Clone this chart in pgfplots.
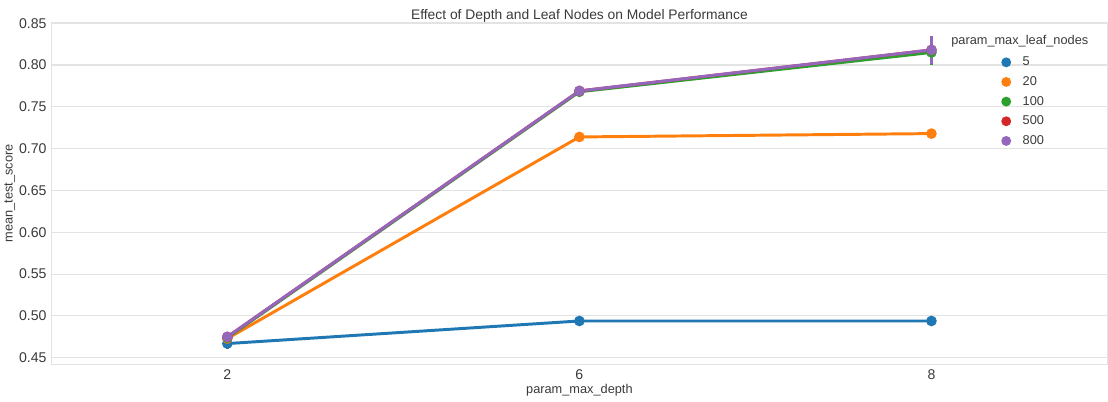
\documentclass[border=0pt]{standalone}
\usepackage{pgfplots}
\pgfplotsset{compat=1.18}
\usepackage{fontspec}
\setmainfont{Liberation Sans}
\definecolor{c5}{HTML}{1F77B4}
\definecolor{c20}{HTML}{FF7F0E}
\definecolor{c100}{HTML}{2CA02C}
\definecolor{c500}{HTML}{D62728}
\definecolor{c800}{HTML}{9467BD}
\definecolor{gridc}{HTML}{E3E3E3}
\definecolor{txt}{HTML}{3A3A3A}
\begin{document}
\begin{tikzpicture}
\begin{axis}[
  name=main,
  scale only axis,
  width=786pt, height=255pt,
  xmin=-0.5, xmax=2.5, ymin=0.4416, ymax=0.8512,
  xtick={0,1,2}, xticklabels={2,6,8},
  ytick={0.45,0.50,...,0.85},
  yticklabel style={/pgf/number format/.cd,fixed,fixed zerofill,precision=2},
  /pgf/number format/assume math mode=true,
  ymajorgrids, grid style={gridc, line width=0.8pt},
  axis line style={gridc, line width=0.8pt},
  tick style={draw=none},
  ticklabel style={font=\fontsize{10.5}{12}\selectfont, text=txt},
  label style={font=\fontsize{9.5}{11}\selectfont, text=txt},
  xlabel={param\_max\_depth},
  ylabel={mean\_test\_score},
  xlabel style={yshift=3pt},
  ylabel style={yshift=-4pt},
  title={Effect of Depth and Leaf Nodes on Model Performance},
  title style={font=\fontsize{10.3}{12}\selectfont, text=txt, yshift=-9.8pt},
  every axis plot/.append style={line width=2.2pt, mark=*, mark size=2.8pt},
  error bars/y dir=both, error bars/y explicit,
  error bars/error bar style={line width=2pt},
  error bars/error mark=none,
  legend style={draw=none, fill=none, at={(rel axis cs:0.895,0.915)}, anchor=north west,
    font=\fontsize{9.5}{11}\selectfont, text=txt, row sep=2.5pt},
  legend cell align=left,
  legend image code/.code={\path[draw=none,fill=none] (0cm,0cm) -- (0.5cm,0cm); \fill (0.14cm,0cm) circle (2.5pt);},
]
\addplot[c5] coordinates {(0,0.467) +- (0,0.006) (1,0.494) +- (0,0.001) (2,0.494) +- (0,0.001)};
\addlegendentry{5}
\addplot[c20] coordinates {(0,0.473) +- (0,0.003) (1,0.714) +- (0,0.001) (2,0.718) +- (0,0.001)};
\addlegendentry{20}
\addplot[c100] coordinates {(0,0.474) +- (0,0.004) (1,0.768) +- (0,0.002) (2,0.815) +- (0,0.015)};
\addlegendentry{100}
\addplot[c500] coordinates {(0,0.475) +- (0,0.005) (1,0.769) +- (0,0.002) (2,0.818) +- (0,0.017)};
\addlegendentry{500}
\addplot[c800] coordinates {(0,0.475) +- (0,0.006) (1,0.769) +- (0,0.002) (2,0.818) +- (0,0.017)};
\addlegendentry{800}
\node[font=\fontsize{9.5}{11}\selectfont, text=txt] at (rel axis cs:0.917,0.945) {param\_max\_leaf\_nodes};
\end{axis}
\path (main.north) -- ++(0,16.5pt);
\end{tikzpicture}
\end{document}
